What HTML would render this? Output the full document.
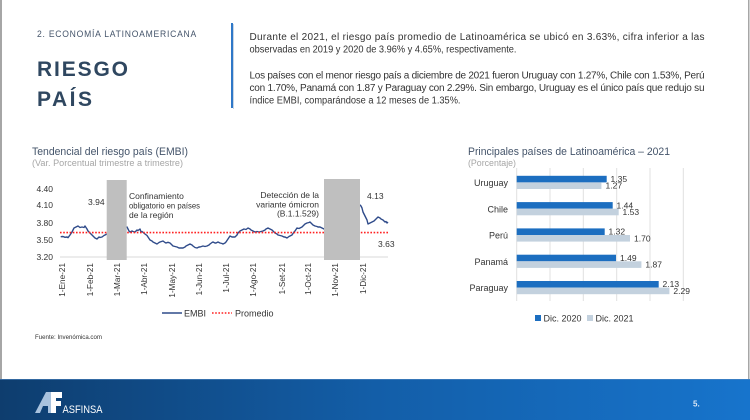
<!DOCTYPE html>
<html><head><meta charset="utf-8">
<style>
html,body{margin:0;padding:0;background:#fff;}
svg{display:block;}
text{font-family:"Liberation Sans",sans-serif;}
</style></head>
<body>
<svg width="750" height="420" viewBox="0 0 750 420" xmlns="http://www.w3.org/2000/svg">
<defs>
<linearGradient id="ft" x1="0" y1="0" x2="1" y2="0">
<stop offset="0" stop-color="#0e3d6e"/>
<stop offset="0.5" stop-color="#135ea8"/>
<stop offset="1" stop-color="#1774cc"/>
</linearGradient>
</defs>
<rect width="750" height="420" fill="#fff"/>
<!-- side borders -->
<rect x="0" y="0" width="2" height="379" fill="#a6a6a6"/>
<rect x="748" y="0" width="1.5" height="379" fill="#a6a6a6"/>

<!-- header -->
<text x="37" y="37" font-size="9" fill="#44546a" letter-spacing="0.8" textLength="160" lengthAdjust="spacingAndGlyphs">2. ECONOMÍA LATINOAMERICANA</text>
<text x="37" y="76" font-size="21" font-weight="bold" fill="#2f4760" textLength="91" lengthAdjust="spacing">RIESGO</text>
<text x="37" y="106" font-size="21" font-weight="bold" fill="#2f4760" textLength="55" lengthAdjust="spacing">PAÍS</text>

<rect x="231" y="23" width="2" height="85" fill="#2f78c8"/>
<rect x="233" y="24" width="1" height="85" fill="#c9d6e4"/>

<g font-size="10" fill="#333">
<text x="249.5" y="40" textLength="455" lengthAdjust="spacing">Durante el 2021, el riesgo país promedio de Latinoamérica se ubicó en 3.63%, cifra  inferior a las</text>
<text x="249.5" y="52.5" textLength="267" lengthAdjust="spacingAndGlyphs">observadas en 2019 y 2020 de 3.96% y 4.65%, respectivamente.</text>
<text x="249.5" y="78.5" textLength="455" lengthAdjust="spacing">Los países con el menor riesgo país a diciembre de 2021 fueron Uruguay con 1.27%, Chile con 1.53%, Perú</text>
<text x="249.5" y="91" textLength="455" lengthAdjust="spacing">con 1.70%, Panamá con 1.87 y Paraguay con 2.29%. Sin embargo, Uruguay es el único país que redujo su</text>
<text x="249.5" y="103.5" textLength="211" lengthAdjust="spacingAndGlyphs">índice EMBI, comparándose a 12 meses de 1.35%.</text>
</g>

<!-- Chart 1 -->
<text x="32" y="155" font-size="11" fill="#44546a" textLength="156" lengthAdjust="spacingAndGlyphs">Tendencial del riesgo país (EMBI)</text>
<text x="32" y="166" font-size="9" fill="#a6a6a6" textLength="151" lengthAdjust="spacingAndGlyphs">(Var. Porcentual trimestre a trimestre)</text>

<g font-size="8.5" fill="#333" text-anchor="end">
<text x="53" y="192">4.40</text>
<text x="53" y="208">4.10</text>
<text x="53" y="226">3.80</text>
<text x="53" y="243">3.50</text>
<text x="53" y="260">3.20</text>
</g>
<line x1="60" y1="257" x2="388" y2="257" stroke="#d9d9d9" stroke-width="1"/>

<polyline fill="none" stroke="#2f4b8a" stroke-width="1.4" stroke-linejoin="round" points="60.7,236.7 63,236.5 65,237.3 67,237 68,237.7 70,235 72,232 74,228 76,227 78,226 80,227.5 82,227 84,227.5 85,226 87,229 88,231 90,233 92,235 94,237 95,238 97,239 99,237 100,237.5 102,237 104,235.5 105,235 107,234 115,232 120,230 127,227 129,231 130,232 132,231 133,231.5 135,232 137,230 138,230.5 140,229 141,232 142,231.5 145,234 147,235.5 148,237 150,240 152,241 153,242 155,243 157,244 159,242.5 160,242 163,241 165,242.5 166,243 168,242.3 170,243 172,245 173,246 175,246.5 177,247 179,248 180,248 183,248 185,247 186,246 188,245 190,244 192,245 193,246 195,247.5 197,248 199,247 200,247 203,246 205,246.5 207,246 209,245 210,244 212,242.5 213,242 215,243 216,243 218,242 220,243 222,243.5 223,244 225,243 226,242 228,239 230,236 232,237 233,237 235,237 237,235 238,233 240,231 242,230 244,229 246,229.5 248,228 250,229 251,230 253,231 255,232 257,231.5 259,232 261,231.5 263,231 265,230 266,229 268,228 270,229 272,230 274,232 275,233 277,234 278,235 280,235.5 282,236 284,237 285,237 287,238 289,236.5 290,236 292,235 294,232 295,231 297,228 299,228.5 300,228 302,227 304,225 305,224 307,223 309,222.5 310,222 312,224 313,225 315,226 317,226.5 318,227 320,227 322,228 324,229 340,220 355,210 360,205 361,206 362,208 363,212 365,216 366,218 367,220 368,224 370,223 372,222 374,221 375,220 377,218 378,217 380,218 381,219 383,220 385,222 386,221.5 387,223 388,222"/>

<line x1="60" y1="232.6" x2="388" y2="232.6" stroke="#ff2020" stroke-width="1.6" stroke-dasharray="1.6 1.6"/>

<rect x="106.7" y="180" width="20" height="80" fill="#bfbfbf"/>
<rect x="324" y="179" width="36" height="81" fill="#bfbfbf"/>

<g font-size="8.5" fill="#333">
<text x="88" y="205">3.94</text>
<text x="129" y="199">Confinamiento</text>
<text x="129" y="208.5" textLength="71" lengthAdjust="spacingAndGlyphs">obligatorio en países</text>
<text x="129" y="218">de la región</text>
<text x="319" y="198" text-anchor="end">Detección de la</text>
<text x="319" y="207.3" text-anchor="end">variante ómicron</text>
<text x="319" y="216.5" text-anchor="end">(B.1.1.529)</text>
<text x="367" y="199">4.13</text>
<text x="378" y="247">3.63</text>
</g>

<g font-size="8.2" fill="#333" text-anchor="end">
<text transform="translate(65,263) rotate(-90)">1-Ene-21</text>
<text transform="translate(93,263) rotate(-90)">1-Feb-21</text>
<text transform="translate(120,263) rotate(-90)">1-Mar-21</text>
<text transform="translate(147,263) rotate(-90)">1-Abr-21</text>
<text transform="translate(175,263) rotate(-90)">1-May-21</text>
<text transform="translate(202,263) rotate(-90)">1-Jun-21</text>
<text transform="translate(229,263) rotate(-90)">1-Jul-21</text>
<text transform="translate(256,263) rotate(-90)">1-Ago-21</text>
<text transform="translate(285,263) rotate(-90)">1-Set-21</text>
<text transform="translate(311,263) rotate(-90)">1-Oct-21</text>
<text transform="translate(338,263) rotate(-90)">1-Nov-21</text>
<text transform="translate(366,263) rotate(-90)">1-Dic-21</text>
</g>

<line x1="162" y1="313" x2="182" y2="313" stroke="#2f4b8a" stroke-width="1.5"/>
<text x="184" y="316.5" font-size="9" fill="#333">EMBI</text>
<line x1="212" y1="313" x2="232" y2="313" stroke="#ff2020" stroke-width="1.5" stroke-dasharray="1.6 1.6"/>
<text x="235" y="316.5" font-size="9" fill="#333">Promedio</text>

<text x="35" y="339" font-size="6" fill="#333" textLength="67" lengthAdjust="spacingAndGlyphs">Fuente: Invenómica.com</text>

<!-- Chart 2 -->
<text x="468" y="155" font-size="11" fill="#44546a" textLength="202" lengthAdjust="spacingAndGlyphs">Principales países de Latinoamérica – 2021</text>
<text x="468" y="166" font-size="9" fill="#a6a6a6" textLength="48" lengthAdjust="spacingAndGlyphs">(Porcentaje)</text>

<g stroke="#e0e0e0" stroke-width="1">
<line x1="516.7" y1="168" x2="516.7" y2="301"/>
<line x1="550" y1="168" x2="550" y2="301"/>
<line x1="583.3" y1="168" x2="583.3" y2="301"/>
<line x1="616.7" y1="168" x2="616.7" y2="301"/>
<line x1="650" y1="168" x2="650" y2="301"/>
<line x1="683.3" y1="168" x2="683.3" y2="301"/>
</g>

<g fill="#1c6ec0">
<rect x="516.7" y="175.8" width="90" height="6.6"/>
<rect x="516.7" y="202.1" width="96" height="6.6"/>
<rect x="516.7" y="228.4" width="88" height="6.6"/>
<rect x="516.7" y="254.7" width="99.3" height="6.6"/>
<rect x="516.7" y="281" width="142" height="6.6"/>
</g>
<g fill="#c3d1de">
<rect x="516.7" y="182.4" width="84.7" height="6.6"/>
<rect x="516.7" y="208.7" width="102" height="6.6"/>
<rect x="516.7" y="235" width="113.3" height="6.6"/>
<rect x="516.7" y="261.3" width="124.7" height="6.6"/>
<rect x="516.7" y="287.6" width="152.7" height="6.6"/>
</g>
<g font-size="8.5" fill="#333">
<text x="610.5" y="182">1.35</text>
<text x="605.5" y="188.6">1.27</text>
<text x="616.5" y="208.3">1.44</text>
<text x="622.5" y="215">1.53</text>
<text x="608.5" y="234.6">1.32</text>
<text x="634" y="241.3">1.70</text>
<text x="620" y="260.9">1.49</text>
<text x="645.4" y="267.6">1.87</text>
<text x="662.5" y="287.2">2.13</text>
<text x="673.4" y="293.9">2.29</text>
</g>
<g font-size="9" fill="#333" text-anchor="end">
<text x="508" y="186">Uruguay</text>
<text x="508" y="212.3">Chile</text>
<text x="508" y="238.6">Perú</text>
<text x="508" y="264.9">Panamá</text>
<text x="508" y="291.2">Paraguay</text>
</g>

<rect x="535" y="315" width="6" height="6" fill="#1c6ec0"/>
<text x="543.5" y="321.5" font-size="9" fill="#333">Dic. 2020</text>
<rect x="587" y="315" width="6" height="6" fill="#c3d1de"/>
<text x="595.5" y="321.5" font-size="9" fill="#333">Dic. 2021</text>

<!-- footer -->
<rect x="0" y="379" width="750" height="41" fill="url(#ft)"/>
<rect x="0" y="379" width="750" height="1" fill="#4f86bf" opacity="0.6"/>
<polygon points="35,413 46,392 53,392 53,413 48,413 48,406 43,406 40,413" fill="#a8c2de"/>
<polygon points="51,392 62,392 62,398 56,398 56,401 61,401 61,406 56,406 56,413 51,413" fill="#ffffff"/>
<text x="62.5" y="413" font-size="11" fill="#ffffff" textLength="40" lengthAdjust="spacingAndGlyphs">ASFINSA</text>
<text x="693" y="406.5" font-size="8" font-weight="bold" fill="#dce8f5">5.</text>
</svg>
</body></html>
